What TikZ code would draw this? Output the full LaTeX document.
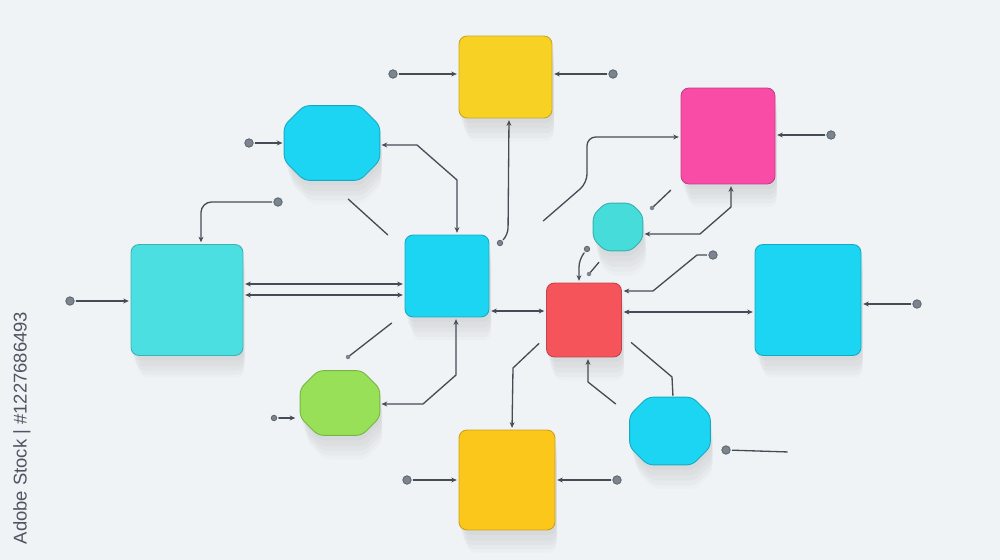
\documentclass[tikz,border=0pt]{standalone}
\usepackage{fontspec}
\newfontfamily\stockfont{Liberation Sans}
\usepackage{tikz}
\usetikzlibrary{arrows, arrows.meta, calc, shadows}

\definecolor{bgc}{HTML}{F0F3F6}
\definecolor{wirec}{HTML}{454C55}
\definecolor{studc}{HTML}{7B8590}
\definecolor{wmc}{HTML}{4E5560}
\definecolor{ylw}{HTML}{F8D125}
\definecolor{ylwb}{HTML}{FCC71B}
\definecolor{cya}{HTML}{1CD5F3}
\definecolor{tea}{HTML}{4CDFE2}
\definecolor{teas}{HTML}{45DCDA}
\definecolor{pnk}{HTML}{F84CA7}
\definecolor{rdc}{HTML}{F5545A}
\definecolor{grn}{HTML}{97E058}

% octagon round a named node, #2 = size of the cut corner
\newcommand{\octshape}[2]{($(#1.north west)+(#2,0)$) -- ($(#1.north east)+(-#2,0)$) -- ($(#1.north east)+(0,#2)$) -- ($(#1.south east)+(0,-#2)$) -- ($(#1.south east)+(-#2,0)$) -- ($(#1.south west)+(#2,0)$) -- ($(#1.south west)+(0,-#2)$) -- ($(#1.north west)+(0,#2)$) -- cycle}

\begin{document}
\begin{tikzpicture}[x=0.02cm, y=-0.02cm, >={Stealth[length=3.2pt,width=2.8pt]},
        wire/.style={draw=wirec, line width=0.75pt, line cap=round, shorten >=1pt, shorten <=1pt},
        softshadow/.style={
            drop shadow={opacity=0.05, shadow xshift=0.03cm, shadow yshift=-0.1cm, shadow scale=1},
            drop shadow={opacity=0.05, shadow xshift=0.05cm, shadow yshift=-0.22cm, shadow scale=0.99},
            drop shadow={opacity=0.05, shadow xshift=0.07cm, shadow yshift=-0.34cm, shadow scale=0.97},
            drop shadow={opacity=0.04, shadow xshift=0.09cm, shadow yshift=-0.46cm, shadow scale=0.95},
            drop shadow={opacity=0.03, shadow xshift=0.11cm, shadow yshift=-0.58cm, shadow scale=0.92}},
        box/.style={rounded corners=0.16cm, inner sep=0pt, fill=#1, draw=#1!80!black, line width=0.5pt, softshadow},
        octbase/.style={inner sep=0pt},
        oct/.style={rounded corners=3pt, fill=#1, draw=#1!80!black, line width=0.5pt, softshadow},
        stud/.style={circle, fill=studc, draw=studc!70!black, line width=0.4pt, inner sep=0pt, minimum size=0.17cm},
        smallstud/.style={stud, minimum size=0.11cm}]
        \useasboundingbox (0,0) rectangle (1000,560);
        \fill[bgc] (0,0) rectangle (1000,560);

        \node[rotate=90, text=wmc, font=\stockfont\fontsize{10.5}{12}\selectfont] (wm) at (22,428) {Adobe Stock | \#1227686493};

        % boxes
        \node[box=ylw, minimum width=1.86cm, minimum height=1.64cm] (ytop) at (505.5,77) {};
        \node[octbase, minimum width=1.90cm, minimum height=1.48cm] (octA) at (332,143) {};
        \node[box=pnk, minimum width=1.88cm, minimum height=1.92cm] (pink) at (728,136) {};
        \node[octbase, minimum width=0.98cm, minimum height=0.94cm] (octS) at (618,227) {};
        \node[box=tea, minimum width=2.24cm, minimum height=2.22cm] (tbig) at (187,300) {};
        \node[box=cya, minimum width=1.68cm, minimum height=1.64cm] (cc) at (447,276) {};
        \node[box=rdc, minimum width=1.50cm, minimum height=1.48cm] (rd) at (584,320) {};
        \node[box=cya, minimum width=2.12cm, minimum height=2.22cm] (cr) at (808,300) {};
        \node[octbase, minimum width=1.58cm, minimum height=1.28cm] (green) at (340,403) {};
        \node[octbase, minimum width=1.60cm, minimum height=1.34cm] (octB) at (670,431) {};
        \node[box=ylwb, minimum width=1.92cm, minimum height=2.00cm] (ybot) at (507,480) {};
        \path[oct=cya] \octshape{octA}{20};
        \path[oct=teas] \octshape{octS}{12};
        \path[oct=grn] \octshape{green}{18};
        \path[oct=cya] \octshape{octB}{18};

        % studs and free ends
        \node[stud] (d1) at (393,74) {};
        \node[stud] (d2) at (613,74) {};
        \node[stud] (d3) at (249,143) {};
        \node[stud] (d4) at (278,202) {};
        \node[smallstud] (d5) at (500,243) {};
        \node[stud] (d6) at (831,135) {};
        \node[smallstud] (d7) at (587,249) {};
        \node[stud] (d8) at (713,255) {};
        \node[stud] (d9) at (917,304) {};
        \node[stud] (d10) at (726,450) {};
        \node[stud] (d11) at (617,480) {};
        \node[stud] (d12) at (407,480) {};
        \node[smallstud] (d13) at (274,418) {};
        \node[stud] (d14) at (70,301) {};
        \coordinate (s1a) at (347,198);
        \coordinate (s1b) at (389,236);
        \coordinate (s2) at (542,222);
        \coordinate (s3a) at (652,208);
        \coordinate (s3b) at (672,189);
        \coordinate (s4a) at (589,274);
        \coordinate (s4b) at (600,261);
        \coordinate (s5) at (617,405);
        \coordinate (s6a) at (348,357);
        \coordinate (s6b) at (393,322);
        \coordinate (e10) at (789,452);
        \coordinate (e13) at (297,418);

        % connectors
        \draw[wire,->] (d1) -- (d1 -| ytop.west);
        \draw[wire,->] (d2) -- (d2 -| ytop.east);
        \draw[wire,->] (d3) -- (d3 -| octA.west);
        \draw[wire,<->] ($(cc.north)+(10,0)$) -- (457,180) -- (417,145) -- (octA.east |- 0,145);
        \draw[wire,->,rounded corners=6pt] (d4) -| ($(tbig.north)+(14,0)$);
        \draw[wire] (s1a) -- (s1b);
        \draw[wire,->,rounded corners=4pt] (d5) -- (508,235) -- ($(ytop.south)+(3.5,0)$);
        \draw[wire,->,rounded corners=5pt] (s2) -- (587,183) -- (587,137) -- (pink.west |- 0,137);
        \draw[wire,->] (d6) -- (d6 -| pink.east);
        \draw[wire] (s3a) -- (s3b);
        \fill[studc] (s3a) circle (0.045cm);
        \draw[wire,<->] ($(pink.south)+(3,0)$) -- (731,207) -- (700,234) -- (octS.east |- 0,234);
        \draw[wire,->,rounded corners=4pt] (d7) -- (579,260) -- (rd.north -| 579,0);
        \draw[wire] (s4a) -- (s4b);
        \fill[studc] (s4a) circle (0.045cm);
        \draw[wire,->] (d8) -- (697,255) -- (653,291) -- (rd.east |- 0,291);
        \draw[wire,<->] (cc.east |- 0,311) -- (rd.west |- 0,311);
        \draw[wire,<->] (rd.east |- 0,312) -- (cr.west |- 0,312);
        \draw[wire,->] ($(rd.south west)+(-6,-15)$) -- (513,368) -- (ybot.north -| 512,0);
        \draw[wire,->] (s5) -- (588,382) -- (rd.south -| 588,0);
        \draw[wire] ($(rd.south east)+(8,-16)$) -- (672,377) -- (octB.north -| 673,0);
        \draw[wire,->] (d9) -- (d9 -| cr.east);
        \draw[wire] (d10) -- (e10);
        \draw[wire,->] (d11) -- (d11 -| ybot.east);
        \draw[wire,->] (d12) -- (d12 -| ybot.west);
        \draw[wire,<->] ($(cc.south)+(9,0)$) -- (456,375) -- (423,404) -- (green.east |- 0,404);
        \draw[wire] (s6a) -- (s6b);
        \fill[studc] (s6a) circle (0.045cm);
        \draw[wire,->] (d13) -- (e13);
        \draw[wire,<->] (tbig.east |- 0,284) -- (cc.west |- 0,284);
        \draw[wire,<->] (tbig.east |- 0,295) -- (cc.west |- 0,295);
        \draw[wire,->] (d14) -- (d14 -| tbig.west);
    \end{tikzpicture}
\end{document}
